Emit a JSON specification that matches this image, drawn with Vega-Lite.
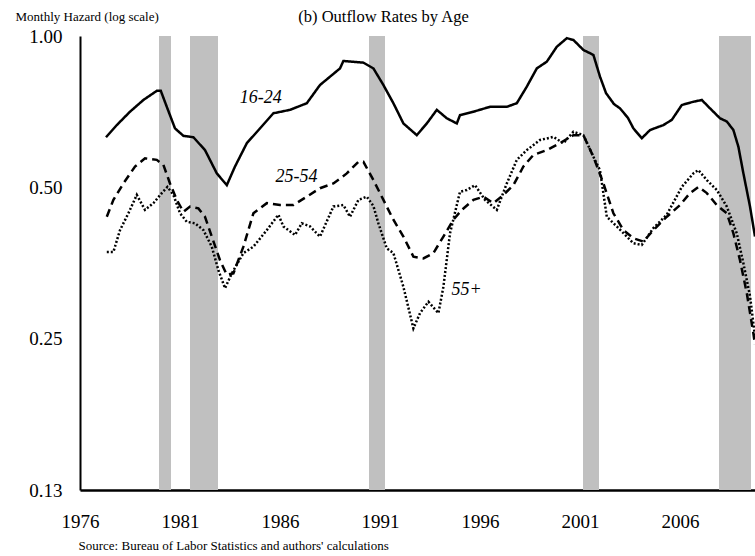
{
  "$schema": "https://vega.github.io/schema/vega-lite/v6.json",
  "autosize": {"type": "none"},
  "padding": {"left": 80, "top": 36, "right": 0, "bottom": 66},
  "width": 675,
  "height": 454,
  "background": "white",
  "title": {"text": "(b) Outflow Rates by Age", "anchor": "middle", "frame": "group", "dx": -34, "dy": 28, "baseline": "alphabetic", "offset": 0, "font": "Liberation Serif", "fontSize": 16.5, "fontWeight": "normal", "color": "black"},
  "config": {
    "view": {"stroke": null},
    "axis": {"grid": false, "labelFont": "Liberation Serif", "titleFont": "Liberation Serif", "labelColor": "black", "titleColor": "black", "domainColor": "black", "tickColor": "black"}
  },
  "datasets": {
    "recessions": [
      {"start": 1979.95, "end": 1980.55},
      {"start": 1981.5, "end": 1982.9},
      {"start": 1990.45, "end": 1991.25},
      {"start": 2001.15, "end": 2001.95},
      {"start": 2007.95, "end": 2009.55}
    ],
    "labels": [
      {"label": "16-24", "year": 1985.04, "rate": 0.735},
      {"label": "25-54", "year": 1986.83, "rate": 0.513},
      {"label": "55+", "year": 1995.33, "rate": 0.3055}
    ],
    "rates": [
      {"age": "16-24", "year": 1977.30, "rate": 0.629},
      {"age": "16-24", "year": 1977.84, "rate": 0.665},
      {"age": "16-24", "year": 1978.50, "rate": 0.707},
      {"age": "16-24", "year": 1979.17, "rate": 0.746},
      {"age": "16-24", "year": 1979.84, "rate": 0.778},
      {"age": "16-24", "year": 1980.04, "rate": 0.778},
      {"age": "16-24", "year": 1980.34, "rate": 0.723},
      {"age": "16-24", "year": 1980.75, "rate": 0.655},
      {"age": "16-24", "year": 1981.17, "rate": 0.633},
      {"age": "16-24", "year": 1981.67, "rate": 0.629},
      {"age": "16-24", "year": 1982.25, "rate": 0.593},
      {"age": "16-24", "year": 1982.84, "rate": 0.533},
      {"age": "16-24", "year": 1983.34, "rate": 0.505},
      {"age": "16-24", "year": 1983.75, "rate": 0.550},
      {"age": "16-24", "year": 1984.34, "rate": 0.612},
      {"age": "16-24", "year": 1985.00, "rate": 0.655},
      {"age": "16-24", "year": 1985.67, "rate": 0.702},
      {"age": "16-24", "year": 1986.50, "rate": 0.713},
      {"age": "16-24", "year": 1987.34, "rate": 0.735},
      {"age": "16-24", "year": 1988.00, "rate": 0.799},
      {"age": "16-24", "year": 1989.00, "rate": 0.862},
      {"age": "16-24", "year": 1989.17, "rate": 0.892},
      {"age": "16-24", "year": 1990.17, "rate": 0.885},
      {"age": "16-24", "year": 1990.67, "rate": 0.862},
      {"age": "16-24", "year": 1991.17, "rate": 0.799},
      {"age": "16-24", "year": 1991.67, "rate": 0.735},
      {"age": "16-24", "year": 1992.17, "rate": 0.670},
      {"age": "16-24", "year": 1992.84, "rate": 0.635},
      {"age": "16-24", "year": 1993.34, "rate": 0.670},
      {"age": "16-24", "year": 1993.84, "rate": 0.713},
      {"age": "16-24", "year": 1994.34, "rate": 0.686},
      {"age": "16-24", "year": 1994.84, "rate": 0.670},
      {"age": "16-24", "year": 1995.00, "rate": 0.696},
      {"age": "16-24", "year": 1995.67, "rate": 0.707},
      {"age": "16-24", "year": 1996.50, "rate": 0.723},
      {"age": "16-24", "year": 1997.34, "rate": 0.723},
      {"age": "16-24", "year": 1997.84, "rate": 0.735},
      {"age": "16-24", "year": 1998.34, "rate": 0.793},
      {"age": "16-24", "year": 1998.84, "rate": 0.862},
      {"age": "16-24", "year": 1999.34, "rate": 0.889},
      {"age": "16-24", "year": 1999.84, "rate": 0.952},
      {"age": "16-24", "year": 2000.34, "rate": 0.990},
      {"age": "16-24", "year": 2000.67, "rate": 0.982},
      {"age": "16-24", "year": 2001.17, "rate": 0.938},
      {"age": "16-24", "year": 2001.67, "rate": 0.917},
      {"age": "16-24", "year": 2002.00, "rate": 0.830},
      {"age": "16-24", "year": 2002.30, "rate": 0.770},
      {"age": "16-24", "year": 2002.70, "rate": 0.732},
      {"age": "16-24", "year": 2003.00, "rate": 0.718},
      {"age": "16-24", "year": 2003.40, "rate": 0.687},
      {"age": "16-24", "year": 2003.67, "rate": 0.655},
      {"age": "16-24", "year": 2004.09, "rate": 0.626},
      {"age": "16-24", "year": 2004.50, "rate": 0.650},
      {"age": "16-24", "year": 2005.17, "rate": 0.665},
      {"age": "16-24", "year": 2005.59, "rate": 0.681},
      {"age": "16-24", "year": 2006.09, "rate": 0.729},
      {"age": "16-24", "year": 2006.67, "rate": 0.740},
      {"age": "16-24", "year": 2007.09, "rate": 0.746},
      {"age": "16-24", "year": 2007.50, "rate": 0.718},
      {"age": "16-24", "year": 2008.00, "rate": 0.686},
      {"age": "16-24", "year": 2008.34, "rate": 0.676},
      {"age": "16-24", "year": 2008.67, "rate": 0.650},
      {"age": "16-24", "year": 2008.92, "rate": 0.602},
      {"age": "16-24", "year": 2009.17, "rate": 0.533},
      {"age": "16-24", "year": 2009.50, "rate": 0.458},
      {"age": "16-24", "year": 2009.75, "rate": 0.399},
      {"age": "25-54", "year": 1977.34, "rate": 0.437},
      {"age": "25-54", "year": 1977.67, "rate": 0.472},
      {"age": "25-54", "year": 1978.17, "rate": 0.509},
      {"age": "25-54", "year": 1978.75, "rate": 0.550},
      {"age": "25-54", "year": 1979.25, "rate": 0.571},
      {"age": "25-54", "year": 1979.84, "rate": 0.567},
      {"age": "25-54", "year": 1980.17, "rate": 0.554},
      {"age": "25-54", "year": 1980.50, "rate": 0.509},
      {"age": "25-54", "year": 1980.84, "rate": 0.472},
      {"age": "25-54", "year": 1981.17, "rate": 0.447},
      {"age": "25-54", "year": 1981.50, "rate": 0.458},
      {"age": "25-54", "year": 1981.92, "rate": 0.454},
      {"age": "25-54", "year": 1982.25, "rate": 0.437},
      {"age": "25-54", "year": 1982.59, "rate": 0.399},
      {"age": "25-54", "year": 1983.00, "rate": 0.358},
      {"age": "25-54", "year": 1983.34, "rate": 0.335},
      {"age": "25-54", "year": 1983.67, "rate": 0.337},
      {"age": "25-54", "year": 1984.17, "rate": 0.381},
      {"age": "25-54", "year": 1984.67, "rate": 0.444},
      {"age": "25-54", "year": 1985.34, "rate": 0.465},
      {"age": "25-54", "year": 1986.00, "rate": 0.461},
      {"age": "25-54", "year": 1986.67, "rate": 0.461},
      {"age": "25-54", "year": 1987.34, "rate": 0.479},
      {"age": "25-54", "year": 1988.00, "rate": 0.498},
      {"age": "25-54", "year": 1988.67, "rate": 0.509},
      {"age": "25-54", "year": 1989.34, "rate": 0.533},
      {"age": "25-54", "year": 1989.92, "rate": 0.562},
      {"age": "25-54", "year": 1990.17, "rate": 0.562},
      {"age": "25-54", "year": 1990.67, "rate": 0.517},
      {"age": "25-54", "year": 1991.17, "rate": 0.472},
      {"age": "25-54", "year": 1991.67, "rate": 0.431},
      {"age": "25-54", "year": 1992.17, "rate": 0.399},
      {"age": "25-54", "year": 1992.67, "rate": 0.364},
      {"age": "25-54", "year": 1993.17, "rate": 0.361},
      {"age": "25-54", "year": 1993.67, "rate": 0.370},
      {"age": "25-54", "year": 1994.17, "rate": 0.399},
      {"age": "25-54", "year": 1994.67, "rate": 0.431},
      {"age": "25-54", "year": 1995.09, "rate": 0.451},
      {"age": "25-54", "year": 1995.67, "rate": 0.472},
      {"age": "25-54", "year": 1996.17, "rate": 0.479},
      {"age": "25-54", "year": 1996.67, "rate": 0.465},
      {"age": "25-54", "year": 1997.17, "rate": 0.483},
      {"age": "25-54", "year": 1997.67, "rate": 0.505},
      {"age": "25-54", "year": 1998.17, "rate": 0.550},
      {"age": "25-54", "year": 1998.67, "rate": 0.580},
      {"age": "25-54", "year": 1999.34, "rate": 0.593},
      {"age": "25-54", "year": 2000.00, "rate": 0.612},
      {"age": "25-54", "year": 2000.67, "rate": 0.635},
      {"age": "25-54", "year": 2001.17, "rate": 0.635},
      {"age": "25-54", "year": 2001.67, "rate": 0.575},
      {"age": "25-54", "year": 2002.17, "rate": 0.509},
      {"age": "25-54", "year": 2002.67, "rate": 0.444},
      {"age": "25-54", "year": 2003.17, "rate": 0.411},
      {"age": "25-54", "year": 2003.67, "rate": 0.396},
      {"age": "25-54", "year": 2004.17, "rate": 0.390},
      {"age": "25-54", "year": 2004.67, "rate": 0.411},
      {"age": "25-54", "year": 2005.34, "rate": 0.437},
      {"age": "25-54", "year": 2006.00, "rate": 0.461},
      {"age": "25-54", "year": 2006.50, "rate": 0.487},
      {"age": "25-54", "year": 2006.92, "rate": 0.501},
      {"age": "25-54", "year": 2007.34, "rate": 0.487},
      {"age": "25-54", "year": 2007.84, "rate": 0.461},
      {"age": "25-54", "year": 2008.34, "rate": 0.444},
      {"age": "25-54", "year": 2008.67, "rate": 0.405},
      {"age": "25-54", "year": 2009.00, "rate": 0.358},
      {"age": "25-54", "year": 2009.34, "rate": 0.308},
      {"age": "25-54", "year": 2009.67, "rate": 0.256},
      {"age": "25-54", "year": 2009.75, "rate": 0.243},
      {"age": "55+", "year": 1977.34, "rate": 0.372},
      {"age": "55+", "year": 1977.67, "rate": 0.372},
      {"age": "55+", "year": 1978.00, "rate": 0.411},
      {"age": "55+", "year": 1978.42, "rate": 0.444},
      {"age": "55+", "year": 1978.84, "rate": 0.483},
      {"age": "55+", "year": 1979.25, "rate": 0.451},
      {"age": "55+", "year": 1979.67, "rate": 0.465},
      {"age": "55+", "year": 1980.09, "rate": 0.487},
      {"age": "55+", "year": 1980.37, "rate": 0.501},
      {"age": "55+", "year": 1980.67, "rate": 0.483},
      {"age": "55+", "year": 1981.00, "rate": 0.444},
      {"age": "55+", "year": 1981.34, "rate": 0.427},
      {"age": "55+", "year": 1981.75, "rate": 0.424},
      {"age": "55+", "year": 1982.17, "rate": 0.411},
      {"age": "55+", "year": 1982.59, "rate": 0.381},
      {"age": "55+", "year": 1982.92, "rate": 0.342},
      {"age": "55+", "year": 1983.25, "rate": 0.315},
      {"age": "55+", "year": 1983.59, "rate": 0.337},
      {"age": "55+", "year": 1984.17, "rate": 0.370},
      {"age": "55+", "year": 1984.67, "rate": 0.381},
      {"age": "55+", "year": 1985.34, "rate": 0.411},
      {"age": "55+", "year": 1985.92, "rate": 0.441},
      {"age": "55+", "year": 1986.17, "rate": 0.418},
      {"age": "55+", "year": 1986.75, "rate": 0.402},
      {"age": "55+", "year": 1987.09, "rate": 0.424},
      {"age": "55+", "year": 1987.50, "rate": 0.418},
      {"age": "55+", "year": 1988.00, "rate": 0.399},
      {"age": "55+", "year": 1988.67, "rate": 0.458},
      {"age": "55+", "year": 1989.17, "rate": 0.461},
      {"age": "55+", "year": 1989.50, "rate": 0.437},
      {"age": "55+", "year": 1989.92, "rate": 0.472},
      {"age": "55+", "year": 1990.34, "rate": 0.479},
      {"age": "55+", "year": 1990.67, "rate": 0.459},
      {"age": "55+", "year": 1990.92, "rate": 0.424},
      {"age": "55+", "year": 1991.34, "rate": 0.378},
      {"age": "55+", "year": 1991.67, "rate": 0.370},
      {"age": "55+", "year": 1992.17, "rate": 0.317},
      {"age": "55+", "year": 1992.67, "rate": 0.262},
      {"age": "55+", "year": 1993.00, "rate": 0.281},
      {"age": "55+", "year": 1993.42, "rate": 0.296},
      {"age": "55+", "year": 1993.92, "rate": 0.281},
      {"age": "55+", "year": 1994.17, "rate": 0.317},
      {"age": "55+", "year": 1994.50, "rate": 0.405},
      {"age": "55+", "year": 1995.00, "rate": 0.490},
      {"age": "55+", "year": 1995.34, "rate": 0.494},
      {"age": "55+", "year": 1995.75, "rate": 0.505},
      {"age": "55+", "year": 1996.25, "rate": 0.472},
      {"age": "55+", "year": 1996.84, "rate": 0.451},
      {"age": "55+", "year": 1997.34, "rate": 0.509},
      {"age": "55+", "year": 1997.84, "rate": 0.567},
      {"age": "55+", "year": 1998.34, "rate": 0.593},
      {"age": "55+", "year": 1999.00, "rate": 0.621},
      {"age": "55+", "year": 1999.67, "rate": 0.630},
      {"age": "55+", "year": 2000.17, "rate": 0.612},
      {"age": "55+", "year": 2000.67, "rate": 0.645},
      {"age": "55+", "year": 2001.17, "rate": 0.635},
      {"age": "55+", "year": 2001.67, "rate": 0.575},
      {"age": "55+", "year": 2002.00, "rate": 0.541},
      {"age": "55+", "year": 2002.34, "rate": 0.437},
      {"age": "55+", "year": 2002.84, "rate": 0.418},
      {"age": "55+", "year": 2003.67, "rate": 0.387},
      {"age": "55+", "year": 2004.09, "rate": 0.384},
      {"age": "55+", "year": 2004.67, "rate": 0.415},
      {"age": "55+", "year": 2005.34, "rate": 0.441},
      {"age": "55+", "year": 2006.09, "rate": 0.501},
      {"age": "55+", "year": 2006.67, "rate": 0.533},
      {"age": "55+", "year": 2006.92, "rate": 0.541},
      {"age": "55+", "year": 2007.34, "rate": 0.517},
      {"age": "55+", "year": 2007.84, "rate": 0.494},
      {"age": "55+", "year": 2008.34, "rate": 0.458},
      {"age": "55+", "year": 2008.84, "rate": 0.405},
      {"age": "55+", "year": 2009.17, "rate": 0.353},
      {"age": "55+", "year": 2009.50, "rate": 0.304},
      {"age": "55+", "year": 2009.75, "rate": 0.252}
    ]
  },
  "layer": [
    {
      "data": {"name": "recessions"},
      "mark": {"type": "rect", "color": "#c0c0c0"},
      "encoding": {
        "x": {
          "field": "start", "type": "quantitative",
          "scale": {"domain": [1976, 2009.75], "nice": false, "zero": false},
          "axis": {"values": [1976, 1981, 1986, 1991, 1996, 2001, 2006], "format": "d", "tickSize": 0, "tickWidth": 1.5, "encode": {"ticks": {"update": {"y2": {"value": -7}}}}, "labelFontSize": 19, "labelPadding": 22, "labelFlush": false, "labelOverlap": false, "domainWidth": 2.5, "title": "Source: Bureau of Labor Statistics and authors' calculations", "titleAnchor": "start", "titleAlign": "left", "titleBaseline": "alphabetic", "titleX": -2, "titleY": 59, "titleFontSize": 13, "titleFontWeight": "normal"}
        },
        "x2": {"field": "end"}
      }
    },
    {
      "data": {"name": "rates"},
      "mark": {"type": "line", "color": "black", "clip": true},
      "encoding": {
        "x": {"field": "year", "type": "quantitative"},
        "y": {
          "field": "rate", "type": "quantitative",
          "scale": {"type": "log", "domain": [0.125, 1], "nice": false},
          "axis": {"values": [0.125, 0.25, 0.5, 1], "format": ".2f", "tickSize": 0, "tickWidth": 1.5, "encode": {"ticks": {"update": {"x2": {"value": 7}}}}, "labelFontSize": 19, "labelPadding": 18, "domainWidth": 2, "title": "Monthly Hazard (log scale)", "titleAngle": 0, "titleAlign": "left", "titleBaseline": "alphabetic", "titleX": -65, "titleY": -16, "titleFontSize": 13, "titleFontWeight": "normal"}
        },
        "strokeDash": {"field": "age", "type": "nominal", "scale": {"domain": ["16-24", "25-54", "55+"], "range": [[1, 0], [8, 5], [2, 2]]}, "legend": null},
        "strokeWidth": {"field": "age", "type": "nominal", "scale": {"domain": ["16-24", "25-54", "55+"], "range": [2.5, 2.5, 1.8]}, "legend": null},
        "order": {"field": "year", "type": "quantitative"}
      }
    },
    {
      "mark": {"type": "rule", "color": "#333333", "strokeWidth": 2},
      "encoding": {"y": {"datum": 1}}
    },
    {
      "data": {"name": "labels"},
      "mark": {"type": "text", "font": "Liberation Serif", "fontStyle": "italic", "fontSize": 18, "align": "center", "baseline": "alphabetic", "color": "black"},
      "encoding": {
        "x": {"field": "year", "type": "quantitative"},
        "y": {"field": "rate", "type": "quantitative"},
        "text": {"field": "label"}
      }
    }
  ]
}
